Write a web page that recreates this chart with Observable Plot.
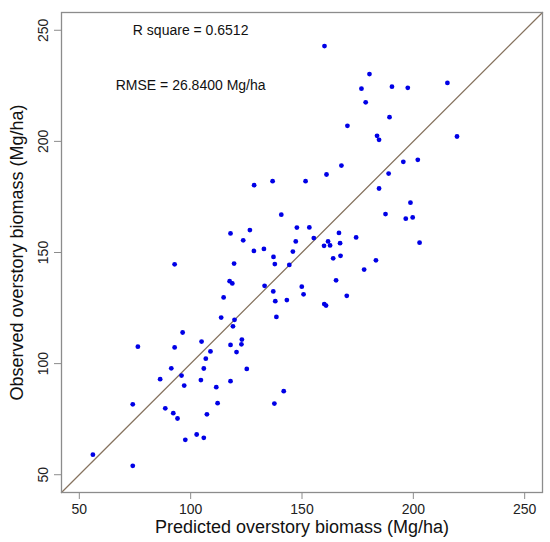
<!DOCTYPE html>
<html>
<head>
<meta charset="utf-8">
<script src="https://cdn.jsdelivr.net/npm/d3@7"></script>
<script src="https://cdn.jsdelivr.net/npm/@observablehq/plot@0.6"></script>
<style>
  html, body { margin: 0; padding: 0; background: #fff; }
</style>
</head>
<body>
<div id="chart"></div>
<script>
const predicted = [128.5,136.8,117.9,126.6,123.6,128.4,132.9,137.2,119.5,92.8,137.8,160.1,180.3,190.4,197.5,176.7,215.3,178.6,189.3,170.4,183.7,184.6,219.6,195.5,202.0,167.7,161.0,188.9,151.6,184.6,198.7,140.7,187.5,196.6,199.7,147.7,153.3,166.6,155.3,174.3,147.2,161.7,167.1,202.8,159.9,162.6,145.9,164.0,167.3,183.2,144.3,177.9,117.5,118.7,133.2,137.1,114.8,138.0,113.7,138.5,119.7,119.0,96.4,104.9,123.0,117.9,122.8,76.3,92.8,108.9,120.6,106.8,91.3,105.9,125.2,95.9,86.3,104.6,117.9,97.1,111.5,74.0,112.1,137.6,88.6,92.2,94.1,107.3,102.7,105.9,97.6,56.1,74.0,165.3,149.9,150.7,170.1,143.2,160.0,160.8,141.8];
const observed = [180.3,182.1,158.6,160.1,155.5,150.7,151.6,148.0,145.0,144.7,144.8,242.9,230.3,224.6,224.1,223.7,226.3,217.6,210.9,207.0,202.5,200.7,202.2,190.8,191.7,189.1,185.1,185.5,182.1,178.8,172.4,167.0,167.3,165.2,165.8,161.2,161.3,158.8,156.5,156.8,155.0,155.0,154.2,154.4,153.0,153.2,150.4,147.4,148.5,146.5,144.4,142.3,137.1,136.1,135.0,132.5,129.8,128.1,120.7,121.0,119.7,116.8,114.0,109.9,110.8,108.4,108.7,107.6,107.3,105.5,105.2,102.2,97.9,97.8,97.6,94.6,93.0,92.6,92.1,90.1,89.4,81.7,82.2,82.0,79.9,77.7,75.3,77.2,68.1,66.6,65.7,59.0,54.0,137.5,134.6,131.2,130.5,128.6,126.8,126.1,87.6];
const axisLimits = [42, 258];
const xTicks = [50, 100, 150, 200, 250];
const yTicks = [50, 100, 150, 200, 250];
const annotations = ["R square = 0.6512", "RMSE = 26.8400 Mg/ha"];
const annotationX = [100, 100];
const annotationY = [250, 225];
const xLabel = "Predicted overstory biomass (Mg/ha)";
const yLabel = "Observed overstory biomass (Mg/ha)";

const points = predicted.map((p, i) => ({p, o: observed[i]}));
const oneToOne = axisLimits.map(v => ({v}));
const notes = annotations.map((t, i) => ({t, x: annotationX[i], y: annotationY[i]}));
const centered = {textAnchor: "middle", lineAnchor: "middle"};

const chart = Plot.plot({
  width: 550,
  height: 542,
  marginLeft: 61,
  marginRight: 8,
  marginTop: 12,
  marginBottom: 50,
  style: {fontFamily: "'Liberation Sans', Arial, sans-serif", fontSize: "14px", background: "#fff", color: "#000"},
  x: {domain: axisLimits, label: null},
  y: {domain: axisLimits, label: null},
  marks: [
    Plot.line(oneToOne, {x: "v", y: "v", stroke: "#86735f", strokeWidth: 1.3}),
    Plot.dot(points, {x: "p", y: "o", r: 2.4, fill: "#0000e6", stroke: "none"}),
    Plot.frame({stroke: "#8c8c8c", strokeWidth: 1.3}),
    Plot.axisX({ticks: xTicks, tickSize: 7, stroke: "#8c8c8c", tickFormat: () => "", label: null}),
    Plot.axisY({ticks: yTicks, tickSize: 7, stroke: "#8c8c8c", tickFormat: () => "", label: null}),
    Plot.text(xTicks, {x: d => d, frameAnchor: "bottom", dy: 17, text: d => String(d), fontSize: 14, fill: "#222", ...centered}),
    Plot.text(yTicks, {y: d => d, frameAnchor: "left", dx: -18, rotate: -90, text: d => String(d), fontSize: 14, fill: "#222", ...centered}),
    Plot.text(notes, {x: "x", y: "y", text: "t", fontSize: 14, fill: "#111", ...centered}),
    Plot.text([xLabel], {frameAnchor: "bottom", dy: 35, text: d => d, fontSize: 18, fill: "#111", ...centered}),
    Plot.text([yLabel], {frameAnchor: "left", dx: -44, rotate: -90, text: d => d, fontSize: 18, fill: "#111", ...centered})
  ]
});
document.getElementById("chart").appendChild(chart);
</script>
</body>
</html>
